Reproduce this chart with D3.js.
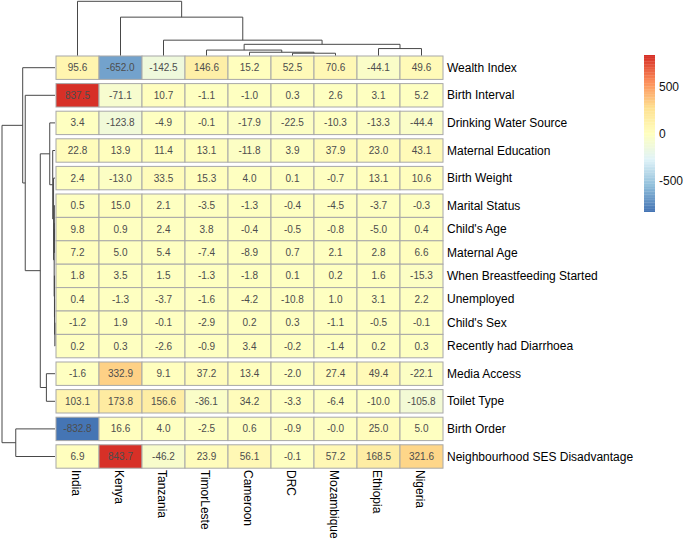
<!doctype html>
<html>
<head>
    <script src="https://cdnjs.cloudflare.com/ajax/libs/d3/7.8.5/d3.min.js"></script>
    <style>
        body { margin: 0; background: #fff; }
        text { font-family: "Liberation Sans", Arial, sans-serif; }
    </style>
</head>
<body>
<svg id="chart" width="685" height="543"></svg>
<script>
    countries = ["India", "Kenya", "Tanzania", "TimorLeste", "Cameroon", "DRC", "Mozambique", "Ethiopia", "Nigeria"]

    variables = ["Wealth Index", "Birth Interval", "Drinking Water Source", "Maternal Education",
        "Birth Weight", "Marital Status", "Child's Age", "Maternal Age", "When Breastfeeding Started",
        "Unemployed", "Child's Sex", "Recently had Diarrhoea", "Media Access", "Toilet Type",
        "Birth Order", "Neighbourhood SES Disadvantage"]

    // one row per variable, columns in the order of countries
    values = [
        [95.6, -652.0, -142.5, 146.6, 15.2, 52.5, 70.6, -44.1, 49.6],
        [837.5, -71.1, 10.7, -1.1, -1.0, 0.3, 2.6, 3.1, 5.2],
        [3.4, -123.8, -4.9, -0.1, -17.9, -22.5, -10.3, -13.3, -44.4],
        [22.8, 13.9, 11.4, 13.1, -11.8, 3.9, 37.9, 23.0, 43.1],
        [2.4, -13.0, 33.5, 15.3, 4.0, 0.1, -0.7, 13.1, 10.6],
        [0.5, 15.0, 2.1, -3.5, -1.3, -0.4, -4.5, -3.7, -0.3],
        [9.8, 0.9, 2.4, 3.8, -0.4, -0.5, -0.8, -5.0, 0.4],
        [7.2, 5.0, 5.4, -7.4, -8.9, 0.7, 2.1, 2.8, 6.6],
        [1.8, 3.5, 1.5, -1.3, -1.8, 0.1, 0.2, 1.6, -15.3],
        [0.4, -1.3, -3.7, -1.6, -4.2, -10.8, 1.0, 3.1, 2.2],
        [-1.2, 1.9, -0.1, -2.9, 0.2, 0.3, -1.1, -0.5, -0.1],
        [0.2, 0.3, -2.6, -0.9, 3.4, -0.2, -1.4, 0.2, 0.3],
        [-1.6, 332.9, 9.1, 37.2, 13.4, -2.0, 27.4, 49.4, -22.1],
        [103.1, 173.8, 156.6, -36.1, 34.2, -3.3, -6.4, -10.0, -105.8],
        [-832.8, 16.6, 4.0, -2.5, 0.6, -0.9, -0.01, 25.0, 5.0],
        [6.9, 843.7, -46.2, 23.9, 56.1, -0.1, 57.2, 168.5, 321.6]
    ]

    // row clusters: a gap is drawn after these row counts
    rowGapsAfter = [1, 2, 3, 4, 5, 12, 13, 14, 15]

    // dendrogram merges: [left, right, height], "#k" refers to merge k
    colMerges = [
        ["DRC", "Mozambique", 71],
        ["Cameroon", "#0", 102],
        ["TimorLeste", "#1", 170],
        ["Ethiopia", "Nigeria", 217],
        ["#2", "#3", 350],
        ["Tanzania", "#4", 480],
        ["Kenya", "#5", 1200],
        ["India", "#6", 1696]
    ]

    rowMerges = [
        ["Child's Sex", "Recently had Diarrhoea", 5],
        ["Unemployed", "#0", 14],
        ["When Breastfeeding Started", "#1", 17],
        ["Child's Age", "Maternal Age", 19],
        ["Marital Status", "#3", 21],
        ["#4", "#2", 26],
        ["Birth Weight", "#5", 45],
        ["Maternal Education", "#6", 72],
        ["Drinking Water Source", "#7", 165],
        ["Media Access", "Toilet Type", 270],
        ["#8", "#9", 462],
        ["Birth Interval", "#10", 935],
        ["Wealth Index", "#11", 1015],
        ["Birth Order", "Neighbourhood SES Disadvantage", 1233],
        ["#12", "#13", 1665]
    ]

    legendTicks = [-500, 0, 500]
    palette = ["#4575B4", "#91BFDB", "#E0F3F8", "#FFFFBF", "#FEE090", "#FC8D59", "#D73027"]

    var svg = d3.select("#chart")
    svg.append("rect").attr("width", 685).attr("height", 543).style("fill", "white")

    var gridTop = 56, rowH = 23.4, gap = 4.2
    var allVals = values.flat()
    var vmin = d3.min(allVals), vmax = d3.max(allVals)

    // 100 colours like colorRampPalette(rev(brewer.pal(7, "RdYlBu")))(100)
    var ramp = d3.scaleLinear().domain(d3.range(7).map(i => i / 6)).range(palette).interpolate(d3.interpolateRgb)
    var colors = d3.range(100).map(i => ramp(i / 99))
    var color = d3.scaleQuantize().domain([vmin, vmax]).range(colors)

    var x = d3.scaleBand().domain(countries).range([56, 443])
    var rowIndex = d3.scaleLinear().domain([0, 1]).range([gridTop, gridTop + rowH])
    function rowY(i) {
        return rowIndex(i) + rowGapsAfter.filter(g => g <= i).length * gap
    }
    function rowCenter(name) {
        return rowY(variables.indexOf(name)) + rowH / 2
    }

    // cells
    var cells = []
    values.forEach((row, i) => row.forEach((v, j) => cells.push({r: i, c: countries[j], v: v})))

    svg.selectAll("rect.cell")
        .data(cells)
        .enter()
        .append("rect")
        .attr("class", "cell")
        .attr("x", d => x(d.c))
        .attr("y", d => rowY(d.r))
        .attr("width", x.bandwidth())
        .attr("height", rowH)
        .style("fill", d => color(d.v))
        .style("stroke", "#a8a8a8")
        .style("stroke-width", 1)

    svg.selectAll("text.num")
        .data(cells)
        .enter()
        .append("text")
        .attr("class", "num")
        .attr("x", d => x(d.c) + x.bandwidth() / 2)
        .attr("y", d => rowY(d.r) + rowH / 2)
        .attr("text-anchor", "middle")
        .attr("dominant-baseline", "central")
        .style("font-size", "10px")
        .style("fill", "#4d4d4d")
        .text(d => d.v.toFixed(1))

    // row labels
    svg.selectAll("text.rowlab")
        .data(variables)
        .enter()
        .append("text")
        .attr("class", "rowlab")
        .attr("x", 447)
        .attr("y", (d, i) => rowY(i) + rowH / 2)
        .attr("dominant-baseline", "central")
        .style("font-size", "12px")
        .style("fill", "#000")
        .text(d => d)

    // column labels, read top to bottom
    svg.selectAll("text.collab")
        .data(countries)
        .enter()
        .append("text")
        .attr("class", "collab")
        .attr("transform", d => "translate(" + (x(d) + x.bandwidth() / 2 - 5.5) + ",470) rotate(90)")
        .style("font-size", "12px")
        .style("fill", "#000")
        .text(d => d)

    // dendrograms
    function drawTree(merges, leafPos, hScale, vertical) {
        var nodes = []
        function resolve(ref) {
            if (typeof ref === "string" && ref[0] === "#") return nodes[+ref.slice(1)]
            return {p: leafPos(ref), h: 0}
        }
        var line = d3.line()
        merges.forEach(m => {
            var a = resolve(m[0]), b = resolve(m[1])
            var pts = [[a.p, a.h], [a.p, m[2]], [b.p, m[2]], [b.p, b.h]]
            pts = pts.map(q => vertical ? [q[0], hScale(q[1])] : [hScale(q[1]), q[0]])
            svg.append("path")
                .attr("d", line(pts))
                .style("fill", "none")
                .style("stroke", "#484848")
                .style("stroke-width", 1)
            nodes.push({p: (a.p + b.p) / 2, h: m[2]})
        })
    }

    var colH = d3.scaleLinear().domain([0, d3.max(colMerges, d => d[2])]).range([55.5, 1.3])
    drawTree(colMerges, name => x(name) + x.bandwidth() / 2, colH, true)

    var rowHs = d3.scaleLinear().domain([0, d3.max(rowMerges, d => d[2])]).range([55, 2])
    drawTree(rowMerges, rowCenter, rowHs, false)

    // legend
    var legY = d3.scaleLinear().domain([vmin, vmax]).range([211.7, 55])
    svg.selectAll("rect.leg")
        .data(colors)
        .enter()
        .append("rect")
        .attr("class", "leg")
        .attr("x", 644)
        .attr("width", 11)
        .attr("y", d => legY(color.invertExtent(d)[1]))
        .attr("height", d => legY(color.invertExtent(d)[0]) - legY(color.invertExtent(d)[1]) + 0.3)
        .style("fill", d => d)

    svg.selectAll("text.legtick")
        .data(legendTicks)
        .enter()
        .append("text")
        .attr("class", "legtick")
        .attr("x", 659)
        .attr("y", d => legY(d))
        .attr("dominant-baseline", "central")
        .style("font-size", "12px")
        .style("fill", "#111")
        .text(d => String(d))
</script>
</body>
</html>
